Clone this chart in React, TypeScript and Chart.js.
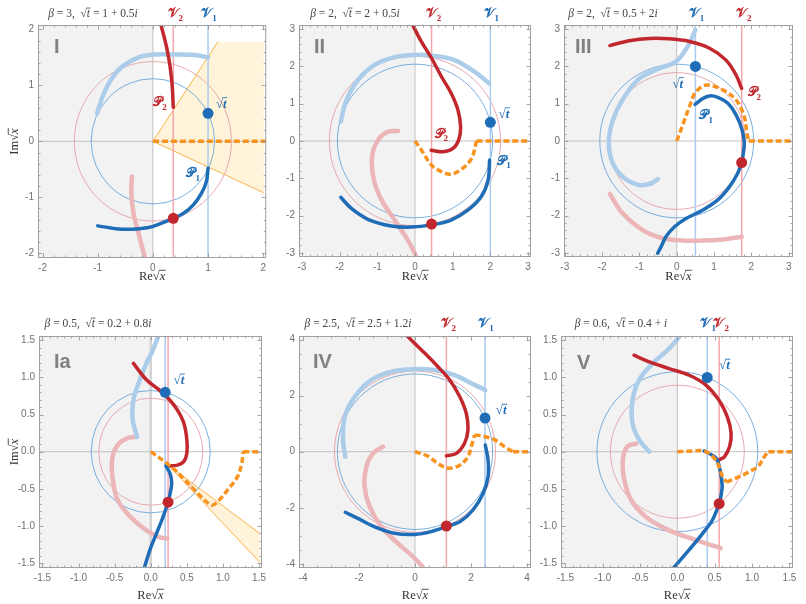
import React, { useEffect, useRef } from 'react';
import { Chart, registerables } from 'chart.js';
Chart.register(...registerables);

type Pt = [number, number];

// ---------------- Panel I ----------------
const I_sqrtT: Pt = [1, 0.5];
const I_saddle: Pt = [0.37, -1.375];
const I_P1: Pt[] = [[1.0, -0.48], [0.97, -0.72], [0.88, -0.93], [0.73, -1.14], [0.55, -1.29], [0.37, -1.375], [0.16, -1.46], [-0.08, -1.54], [-0.38, -1.57], [-0.67, -1.56], [-1.0, -1.51]];
const I_P2: Pt[] = [[0.14, 2.1], [0.2, 1.88], [0.26, 1.63], [0.31, 1.35], [0.35, 1.0], [0.37, 0.61]];
const I_fadedBlue: Pt[] = [[-1.01, 0.5], [-0.91, 0.8], [-0.76, 1.1], [-0.56, 1.33], [-0.26, 1.5], [0.04, 1.55], [0.4, 1.55], [0.76, 1.54], [1.0, 1.5]];
const I_fadedRed: Pt[] = [[-0.38, -0.63], [-0.39, -0.93], [-0.35, -1.29], [-0.26, -1.64], [-0.14, -2.1]];
const I_orange: Pt[] = [[0, 0], [2.2, 0]];
const I_wedge: Pt[] = [[0, 0], [1.18, 1.78], [2.01, 1.78], [2.01, -0.92]];

// ---------------- Panel II ----------------
const II_sqrtT: Pt = [2, 0.5];
const II_saddle: Pt = [0.44, -2.23];
const II_P1: Pt[] = [[1.98, -0.51], [1.94, -1.05], [1.76, -1.49], [1.41, -1.85], [0.96, -2.12], [0.44, -2.25], [-0.1, -2.31], [-0.63, -2.28], [-1.25, -2.1], [-1.69, -1.81], [-1.97, -1.51]];
const II_P2: Pt[] = [[-0.08, 3.15], [0.15, 2.7], [0.44, 2.22], [0.7, 1.73], [0.96, 1.28], [1.14, 0.83], [1.21, 0.38], [1.16, 0.03], [1.01, -0.2], [0.74, -0.29], [0.43, -0.25]];
const II_fadedBlue: Pt[] = [[-1.97, 0.52], [-1.82, 1.1], [-1.51, 1.64], [-1.07, 2.04], [-0.54, 2.25], [0, 2.31], [0.52, 2.28], [1.05, 2.17], [1.58, 1.86], [1.96, 1.55]];
const II_fadedRed: Pt[] = [[-0.45, 0.27], [-0.72, 0.25], [-0.98, 0.03], [-1.14, -0.42], [-1.09, -1.05], [-0.89, -1.58], [-0.54, -2.12], [-0.19, -2.66], [0.06, -3.15]];
const II_orangeCurve: Pt[] = [[0, 0], [0.17, -0.24], [0.43, -0.64], [0.7, -0.82], [0.96, -0.89], [1.27, -0.73], [1.5, -0.47], [1.6, -0.15], [1.63, 0]];
const II_orangeFlat: Pt[] = [[1.63, 0], [3.2, 0]];

// ---------------- Panel III ----------------
const III_sqrtT: Pt = [0.5, 2];
const III_saddle: Pt = [1.74, -0.58];
const III_P1: Pt[] = [[0.49, 0.98], [0.7, 1.14], [0.88, 1.21], [1.1, 1.17], [1.37, 1.01], [1.59, 0.7], [1.75, 0.3], [1.81, -0.06], [1.77, -0.42], [1.74, -0.58], [1.63, -0.87], [1.41, -1.23], [1.1, -1.58], [0.7, -1.85], [0.25, -2.08], [-0.06, -2.3], [-0.29, -2.57], [-0.42, -2.84], [-0.51, -3.01]];
const III_P2: Pt[] = [[-1.79, 2.56], [-1.27, 2.69], [-0.73, 2.75], [-0.2, 2.74], [0.34, 2.67], [0.88, 2.49], [1.32, 2.17], [1.59, 1.77], [1.74, 1.41]];
const III_fadedBlue: Pt[] = [[0.5, 2.98], [0.29, 2.53], [-0.02, 2.13], [-0.46, 1.95], [-1.0, 1.68], [-1.4, 1.19], [-1.71, 0.56], [-1.82, -0.06], [-1.71, -0.6], [-1.4, -1.0], [-1.0, -1.18], [-0.69, -1.14], [-0.51, -1.02]];
const III_fadedRed: Pt[] = [[-1.79, -1.42], [-1.45, -1.94], [-0.91, -2.39], [-0.375, -2.61], [0.16, -2.67], [0.7, -2.67], [1.23, -2.64], [1.74, -2.57]];
const III_orangeCurve: Pt[] = [[0, 0], [0.16, 0.43], [0.34, 0.92], [0.5, 1.3], [0.8, 1.5], [1.23, 1.37], [1.59, 1.1], [1.81, 0.65], [1.88, 0.21], [1.93, 0]];
const III_orangeFlat: Pt[] = [[1.93, 0], [3.2, 0]];

// ---------------- Panel Ia ----------------
const Ia_sqrtT: Pt = [0.2, 0.8];
const Ia_saddle: Pt = [0.24, -0.68];
const Ia_P1: Pt[] = [[0.21, -0.19], [0.27, -0.3], [0.29, -0.43], [0.26, -0.6], [0.24, -0.68], [0.17, -0.88], [0.08, -1.1], [-0.01, -1.32], [-0.1, -1.6]];
const Ia_P2: Pt[] = [[-0.24, 1.19], [-0.06, 0.97], [0.12, 0.83], [0.26, 0.7], [0.37, 0.56], [0.46, 0.38], [0.5, 0.16], [0.5, -0.02], [0.46, -0.13], [0.37, -0.18], [0.24, -0.19]];
const Ia_fadedBlue: Pt[] = [[-0.19, 0.2], [-0.25, 0.43], [-0.24, 0.7], [-0.17, 0.92], [-0.06, 1.19], [0.03, 1.37], [0.12, 1.6]];
const Ia_fadedRed: Pt[] = [[-0.19, 0.2], [-0.3, 0.19], [-0.44, 0.11], [-0.53, -0.07], [-0.53, -0.34], [-0.46, -0.65], [-0.28, -0.88], [-0.06, -1.06], [0.12, -1.15], [0.23, -1.17]];
const Ia_orangeCurve: Pt[] = [[0, 0], [0.255, -0.18], [0.435, -0.34], [0.61, -0.52], [0.84, -0.72], [0.93, -0.67], [1.06, -0.52], [1.2, -0.34], [1.26, -0.16], [1.28, 0]];
const Ia_orangeFlat: Pt[] = [[1.28, 0], [1.6, 0]];
const Ia_wedge: Pt[] = [[0.24, -0.18], [1.51, -1.1], [1.51, -1.49]];

// ---------------- Panel IV ----------------
const IV_sqrtT: Pt = [2.5, 1.2];
const IV_saddle: Pt = [1.12, -2.65];
const IV_P1: Pt[] = [[2.51, 0.24], [2.61, -0.3], [2.61, -0.89], [2.43, -1.49], [2.07, -2.08], [1.6, -2.5], [1.12, -2.67], [0.58, -2.85], [-0.01, -2.95], [-0.73, -2.91], [-1.44, -2.68], [-2.04, -2.38], [-2.49, -2.16]];
const IV_P2: Pt[] = [[-0.35, 4.2], [0.23, 3.63], [0.82, 3.03], [1.24, 2.56], [1.6, 1.96], [1.83, 1.37], [1.89, 0.77], [1.77, 0.3], [1.48, -0.06], [1.12, -0.15]];
const IV_fadedBlue: Pt[] = [[-2.49, -0.18], [-2.57, 0.42], [-2.51, 1.25], [-2.15, 1.96], [-1.56, 2.56], [-0.85, 2.85], [-0.01, 2.95], [0.7, 2.91], [1.42, 2.73], [2.01, 2.44], [2.51, 2.2]];
const IV_fadedRed: Pt[] = [[-1.14, 0.18], [-1.5, -0.06], [-1.74, -0.54], [-1.8, -1.25], [-1.62, -1.96], [-1.2, -2.68], [-0.61, -3.27], [-0.01, -3.8], [0.35, -4.2]];
const IV_orange1: Pt[] = [[0, 0], [0.46, -0.16], [0.82, -0.42], [1.18, -0.59], [1.6, -0.48], [1.89, -0.18], [2.01, 0.18], [2.13, 0.6]];
const IV_orange2: Pt[] = [[2.13, 0.6], [2.49, 0.54], [2.85, 0.42], [3.2, 0.18], [3.5, 0]];
const IV_orangeFlat: Pt[] = [[3.5, 0], [4.3, 0]];

// ---------------- Panel V ----------------
const V_sqrtT: Pt = [0.4, 1];
const V_saddle: Pt = [0.56, -0.7];
const V_P1: Pt[] = [[0.36, 0.01], [0.52, -0.09], [0.58, -0.29], [0.6, -0.47], [0.58, -0.62], [0.56, -0.7], [0.47, -0.92], [0.34, -1.1], [0.16, -1.32], [-0.08, -1.6]];
const V_P2: Pt[] = [[-0.58, 1.3], [-0.375, 1.21], [-0.11, 1.12], [0.16, 1.03], [0.38, 0.9], [0.56, 0.69], [0.67, 0.47], [0.72, 0.25], [0.7, 0.07], [0.63, -0.07], [0.56, -0.11]];
const V_fadedBlue: Pt[] = [[-0.375, 0], [-0.51, 0.16], [-0.6, 0.38], [-0.6, 0.7], [-0.51, 0.97], [-0.33, 1.19], [-0.11, 1.39], [0.07, 1.6]];
const V_fadedRed: Pt[] = [[-0.55, 0.11], [-0.67, 0.07], [-0.73, -0.11], [-0.71, -0.38], [-0.62, -0.65], [-0.42, -0.88], [-0.11, -1.06], [0.25, -1.19], [0.58, -1.3]];
const V_orange1: Pt[] = [[0, 0], [0.2, 0.01], [0.36, 0.01], [0.47, -0.06], [0.55, -0.18], [0.6, -0.32], [0.66, -0.41]];
const V_orange2: Pt[] = [[0.66, -0.41], [0.8, -0.35], [0.96, -0.27], [1.08, -0.2], [1.17, -0.06], [1.22, 0]];
const V_orangeFlat: Pt[] = [[1.22, 0], [1.6, 0]];

// ---------------- tick labels ----------------
const TICKS_2 = [-2, -1, 0, 1, 2];
const TICKS_3 = [-3, -2, -1, 0, 1, 2, 3];
const TICKS_15 = [-1.5, -1, -0.5, 0, 0.5, 1, 1.5];
const TICKS_4 = [-4, -2, 0, 2, 4];

// ---------------- styles ----------------
const SERIF = '"Liberation Serif", "DejaVu Serif", serif';
const SANS = '"Liberation Sans", "DejaVu Sans", sans-serif';
const DARK_BLUE = '#1f6db6';
const DARK_RED = '#c1272d';
const FADED_BLUE = '#abcdea';
const FADED_RED = '#ecb5b8';
const CIRCLE_BLUE = '#5a9ad4';
const CIRCLE_RED = '#e3a2a6';
const VLINE_BLUE = '#aacaf0';
const VLINE_RED = '#f4a6ac';
const ORANGE = '#f7931e';
const ORANGE_EDGE = '#f9b24a';
const WEDGE_FILL = '#fff4d9';
const GRAY = '#f2f2f2';

interface Seg { t: string; it?: boolean; ov?: boolean; sub?: boolean }
interface Label { kind: 'sqrt' | 'P1' | 'P2'; at: Pt }
interface Panel {
  name: string;
  cell: [number, number, number, number];
  yAxisW: number; padRight: number; padTop: number; xAxisH: number;
  xr: [number, number]; yr: [number, number];
  xt: number[]; yt: number[]; xMinor: number; yMinor: number; dec: number;
  sqrtT: Pt; saddle: Pt;
  P1: Pt[]; P2: Pt[]; fadedBlue: Pt[]; fadedRed: Pt[]; orange: Pt[][];
  wedge?: Pt[];
  beta: string; tval: string;
  titleX: number; titleY: number;
  vLabels: boolean;
  labels: Label[];
  roman: [number, number];
  showIm: boolean;
  reY: number;
  zeroW: number;
}

const PANELS: Panel[] = [
  {
    name: 'I', cell: [0, 0, 270, 300], yAxisW: 38, padRight: 1, padTop: 25, xAxisH: 42,
    xr: [-2.082, 2.054], yr: [-2.084, 2.077], xt: TICKS_2, yt: TICKS_2, xMinor: 0.2, yMinor: 0.2, dec: 0,
    sqrtT: I_sqrtT, saddle: I_saddle, P1: I_P1, P2: I_P2, fadedBlue: I_fadedBlue, fadedRed: I_fadedRed,
    orange: [I_orange], wedge: I_wedge, beta: '3', tval: '1 + 0.5', titleX: 93, titleY: 17,
    vLabels: true, labels: [{ kind: 'sqrt', at: [1.24, 0.68] }, { kind: 'P2', at: [0.13, 0.71] }, { kind: 'P1', at: [0.73, -0.56] }],
    roman: [54, 47], showIm: true, reY: 280, zeroW: 0.8,
  },
  {
    name: 'II', cell: [270, 0, 266, 300], yAxisW: 29, padRight: 5, padTop: 25, xAxisH: 43,
    xr: [-3.079, 3.079], yr: [-3.112, 3.112], xt: TICKS_3, yt: TICKS_3, xMinor: 0.2, yMinor: 0.2, dec: 0,
    sqrtT: II_sqrtT, saddle: II_saddle, P1: II_P1, P2: II_P2, fadedBlue: II_fadedBlue, fadedRed: II_fadedRed,
    orange: [II_orangeCurve, II_orangeFlat], beta: '2', tval: '2 + 0.5', titleX: 85, titleY: 17,
    vLabels: true, labels: [{ kind: 'sqrt', at: [2.36, 0.74] }, { kind: 'P2', at: [0.7, 0.21] }, { kind: 'P1', at: [2.36, -0.51] }],
    roman: [44, 47], showIm: false, reY: 280, zeroW: 0.8,
  },
  {
    name: 'III', cell: [536, 0, 270, 300], yAxisW: 28, padRight: 13, padTop: 25, xAxisH: 43,
    xr: [-3.02, 3.115], yr: [-3.112, 3.112], xt: TICKS_3, yt: TICKS_3, xMinor: 0.2, yMinor: 0.2, dec: 0,
    sqrtT: III_sqrtT, saddle: III_saddle, P1: III_P1, P2: III_P2, fadedBlue: III_fadedBlue, fadedRed: III_fadedRed,
    orange: [III_orangeCurve, III_orangeFlat], beta: '2', tval: '0.5 + 2', titleX: 77, titleY: 17,
    vLabels: true, labels: [{ kind: 'sqrt', at: [0.03, 1.55] }, { kind: 'P1', at: [0.79, 0.7] }, { kind: 'P2', at: [2.08, 1.32] }],
    roman: [39, 47], showIm: false, reY: 280, zeroW: 0.8,
  },
  {
    name: 'Ia', cell: [0, 300, 270, 304], yAxisW: 39, padRight: 1, padTop: 36, xAxisH: 36,
    xr: [-1.548, 1.541], yr: [-1.567, 1.559], xt: TICKS_15, yt: TICKS_15, xMinor: 0.1, yMinor: 0.1, dec: 1,
    sqrtT: Ia_sqrtT, saddle: Ia_saddle, P1: Ia_P1, P2: Ia_P2, fadedBlue: Ia_fadedBlue, fadedRed: Ia_fadedRed,
    orange: [Ia_orangeCurve, Ia_orangeFlat], wedge: Ia_wedge, beta: '0.5', tval: '0.2 + 0.8', titleX: 98, titleY: 27,
    vLabels: false, labels: [{ kind: 'sqrt', at: [0.39, 0.97] }],
    roman: [54, 62], showIm: true, reY: 299, zeroW: 2.5,
  },
  {
    name: 'IV', cell: [270, 300, 266, 304], yAxisW: 29, padRight: 5, padTop: 36, xAxisH: 36,
    xr: [-4.143, 4.143], yr: [-4.148, 4.126], xt: TICKS_4, yt: TICKS_4, xMinor: 0.5, yMinor: 0.5, dec: 0,
    sqrtT: IV_sqrtT, saddle: IV_saddle, P1: IV_P1, P2: IV_P2, fadedBlue: IV_fadedBlue, fadedRed: IV_fadedRed,
    orange: [IV_orange1, IV_orange2, IV_orangeFlat], beta: '2.5', tval: '2.5 + 1.2', titleX: 88, titleY: 27,
    vLabels: true, labels: [{ kind: 'sqrt', at: [3.08, 1.49] }],
    roman: [43, 62], showIm: false, reY: 299, zeroW: 0.8,
  },
  {
    name: 'V', cell: [536, 300, 270, 304], yAxisW: 25, padRight: 13, padTop: 36, xAxisH: 36,
    xr: [-1.558, 1.549], yr: [-1.567, 1.559], xt: TICKS_15, yt: TICKS_15, xMinor: 0.1, yMinor: 0.1, dec: 1,
    sqrtT: V_sqrtT, saddle: V_saddle, P1: V_P1, P2: V_P2, fadedBlue: V_fadedBlue, fadedRed: V_fadedRed,
    orange: [V_orange1, V_orange2, V_orangeFlat], beta: '0.6', tval: '0.4 + ', titleX: 85, titleY: 27,
    vLabels: true, labels: [{ kind: 'sqrt', at: [0.63, 1.17] }],
    roman: [41, 63], showIm: false, reY: 299, zeroW: 0.8,
  },
];

function drawRich(ctx: CanvasRenderingContext2D, segs: Seg[], x: number, y: number, size: number, fam: string,
  color: string, align: 'center' | 'left' = 'center', weight = '') {
  const f = (s: Seg) => `${s.it ? 'italic ' : ''}${weight ? weight + ' ' : ''}${s.sub ? Math.round(size * 0.7) : size}px ${fam}`;
  let w = 0;
  const ws = segs.map((s) => { ctx.font = f(s); const m = ctx.measureText(s.t).width; w += m; return m; });
  let cx = align === 'center' ? x - w / 2 : x;
  ctx.fillStyle = color; ctx.strokeStyle = color;
  ctx.textAlign = 'left'; ctx.textBaseline = 'alphabetic';
  segs.forEach((s, i) => {
    ctx.font = f(s);
    ctx.fillText(s.t, cx, y + (s.sub ? size * 0.28 : 0));
    if (s.ov) {
      ctx.lineWidth = Math.max(0.7, size / 15);
      ctx.beginPath();
      ctx.moveTo(cx - 0.5, y - size * 0.78);
      ctx.lineTo(cx + ws[i] + 0.5, y - size * 0.78);
      ctx.stroke();
    }
    cx += ws[i];
  });
}

const SQRT_SEGS = (v: string): Seg[] => [{ t: '√' }, { t: v, it: true, ov: true }];

function makePlugin(p: Panel) {
  return {
    id: 'panel' + p.name,
    beforeDatasetsDraw(chart: any) {
      const { ctx, chartArea: a } = chart;
      const xs = chart.scales.x, ys = chart.scales.y;
      const X = (v: number) => xs.getPixelForValue(v);
      const Y = (v: number) => ys.getPixelForValue(v);
      ctx.save();
      ctx.beginPath(); ctx.rect(a.left, a.top, a.right - a.left, a.bottom - a.top); ctx.clip();
      ctx.fillStyle = GRAY;
      ctx.fillRect(a.left, a.top, X(0) - a.left, a.bottom - a.top);
      if (p.wedge) {
        const w = p.wedge;
        ctx.beginPath();
        w.forEach(([x, y], i) => (i ? ctx.lineTo(X(x), Y(y)) : ctx.moveTo(X(x), Y(y))));
        ctx.closePath(); ctx.fillStyle = WEDGE_FILL; ctx.fill();
        ctx.strokeStyle = ORANGE_EDGE; ctx.lineWidth = 1;
        ctx.beginPath();
        ctx.moveTo(X(w[1][0]), Y(w[1][1])); ctx.lineTo(X(w[0][0]), Y(w[0][1])); ctx.lineTo(X(w[w.length - 1][0]), Y(w[w.length - 1][1]));
        ctx.stroke();
      }
      ctx.strokeStyle = p.zeroW > 1 ? '#d4d4d4' : '#b4b4b4'; ctx.lineWidth = p.zeroW;
      ctx.beginPath(); ctx.moveTo(X(0), a.top); ctx.lineTo(X(0), a.bottom); ctx.stroke();
      ctx.strokeStyle = '#b4b4b4'; ctx.lineWidth = 0.8;
      ctx.beginPath(); ctx.moveTo(a.left, Y(0)); ctx.lineTo(a.right, Y(0)); ctx.stroke();
      const circ = (pt: Pt, color: string, lw: number) => {
        const r = Math.hypot(pt[0], pt[1]);
        ctx.strokeStyle = color; ctx.lineWidth = lw;
        ctx.beginPath();
        ctx.ellipse(X(0), Y(0), Math.abs(X(r) - X(0)), Math.abs(Y(r) - Y(0)), 0, 0, Math.PI * 2);
        ctx.stroke();
      };
      circ(p.saddle, CIRCLE_RED, 0.9);
      circ(p.sqrtT, CIRCLE_BLUE, 0.8);
      const vline = (xv: number, color: string) => {
        ctx.strokeStyle = color; ctx.lineWidth = 1.5;
        ctx.beginPath(); ctx.moveTo(X(xv), a.top); ctx.lineTo(X(xv), a.bottom); ctx.stroke();
      };
      vline(p.sqrtT[0], VLINE_BLUE);
      vline(p.saddle[0], VLINE_RED);
      ctx.restore();
    },
    afterDatasetsDraw(chart: any) {
      const { ctx } = chart;
      const xs = chart.scales.x, ys = chart.scales.y;
      ctx.save();
      p.labels.forEach((l) => {
        const px = xs.getPixelForValue(l.at[0]);
        const py = ys.getPixelForValue(l.at[1]);
        if (l.kind === 'sqrt') drawRich(ctx, SQRT_SEGS('t'), px, py + 4.5, 13, SERIF, DARK_BLUE, 'center', 'bold');
        else drawRich(ctx, [{ t: '𝒫' }, { t: l.kind === 'P1' ? '1' : '2', sub: true }], px, py + 4.5, 13, SERIF,
          l.kind === 'P1' ? DARK_BLUE : DARK_RED, 'center', 'bold');
      });
      ctx.fillStyle = '#808080';
      ctx.font = `bold 20px ${SANS}`;
      ctx.textAlign = 'left'; ctx.textBaseline = 'middle';
      ctx.fillText(p.name, p.roman[0], p.roman[1]);
      ctx.restore();
    },
    afterDraw(chart: any) {
      const { ctx, chartArea: a } = chart;
      const xs = chart.scales.x, ys = chart.scales.y;
      const X = (v: number) => xs.getPixelForValue(v);
      const Y = (v: number) => ys.getPixelForValue(v);
      ctx.save();
      ctx.strokeStyle = '#8f8f8f'; ctx.lineWidth = 0.8;
      ctx.beginPath();
      const tickSet = (major: number[], step: number, min: number, max: number) => {
        const out: { v: number; len: number }[] = [];
        for (let k = Math.ceil(min / step - 1e-6); k * step <= max + 1e-6; k++) {
          const v = k * step;
          const isMajor = major.some((m) => Math.abs(m - v) < 1e-6);
          out.push({ v, len: isMajor ? 4.5 : 2.5 });
        }
        return out;
      };
      tickSet(p.xt, p.xMinor, p.xr[0], p.xr[1]).forEach(({ v, len }) => {
        const px = Math.round(X(v)) + 0.5;
        ctx.moveTo(px, a.bottom); ctx.lineTo(px, a.bottom - len);
        ctx.moveTo(px, a.top); ctx.lineTo(px, a.top + len);
      });
      tickSet(p.yt, p.yMinor, p.yr[0], p.yr[1]).forEach(({ v, len }) => {
        const py = Math.round(Y(v)) + 0.5;
        ctx.moveTo(a.left, py); ctx.lineTo(a.left + len, py);
        ctx.moveTo(a.right, py); ctx.lineTo(a.right - len, py);
      });
      ctx.stroke();
      ctx.strokeStyle = '#a0a0a0'; ctx.lineWidth = 1;
      ctx.strokeRect(a.left + 0.5, a.top + 0.5, a.right - a.left - 1, a.bottom - a.top - 1);
      const segs: Seg[] = [{ t: 'β', it: true }, { t: ` = ${p.beta},  ` }, { t: '√' }, { t: 't', it: true, ov: true },
        { t: ` = ${p.tval}` }, { t: 'i', it: true }];
      drawRich(ctx, segs, p.titleX, p.titleY, 11.5, SERIF, '#444');
      if (p.vLabels) {
        drawRich(ctx, [{ t: '𝒱' }, { t: '1', sub: true }], X(p.sqrtT[0]) + 1, p.titleY, 12.5, SERIF, DARK_BLUE, 'center', 'bold');
        drawRich(ctx, [{ t: '𝒱' }, { t: '2', sub: true }], X(p.saddle[0]) + 2, p.titleY, 12.5, SERIF, DARK_RED, 'center', 'bold');
      }
      const cxp = (a.left + a.right) / 2;
      drawRich(ctx, [{ t: 'Re' }, ...SQRT_SEGS('x')], cxp, p.reY, 12.5, SERIF, '#333');
      if (p.showIm) {
        ctx.save();
        ctx.translate(18, (a.top + a.bottom) / 2);
        ctx.rotate(-Math.PI / 2);
        drawRich(ctx, [{ t: 'Im' }, ...SQRT_SEGS('x')], 0, 0, 12.5, SERIF, '#333');
        ctx.restore();
      }
      ctx.restore();
    },
  };
}

function lineDS(pts: Pt[], color: string, width: number, dash?: number[]) {
  return {
    data: pts.map(([x, y]) => ({ x, y })),
    showLine: true, pointRadius: 0, pointHoverRadius: 0,
    borderColor: color, borderWidth: width, borderDash: dash || [],
    borderCapStyle: dash ? 'butt' : 'round', borderJoinStyle: 'round',
    tension: 0.35, fill: false, clip: 0,
  };
}
function dotDS(pt: Pt, color: string) {
  return {
    data: [{ x: pt[0], y: pt[1] }], showLine: false, pointRadius: 5.5, pointHoverRadius: 5.5,
    pointBackgroundColor: color, pointBorderWidth: 0, borderColor: color, clip: false,
  };
}

function buildConfig(p: Panel): any {
  const list: any[] = [
    lineDS(p.fadedRed, FADED_RED, 4.5),
    lineDS(p.fadedBlue, FADED_BLUE, 4.5),
    lineDS(p.P2, DARK_RED, 3.5),
    lineDS(p.P1, DARK_BLUE, 3.5),
    ...p.orange.map((seg) => lineDS(seg, ORANGE, 3.5, [6, 3])),
    dotDS(p.sqrtT, DARK_BLUE),
    dotDS(p.saddle, DARK_RED),
  ];
  const n = list.length;
  list.forEach((d, i) => { d.order = n - i; });
  const fmt = (v: number) => (p.dec ? v.toFixed(p.dec) : String(Math.round(v)));
  const tickFont = { family: SANS, size: 10 };
  return {
    type: 'scatter',
    data: { datasets: list },
    options: {
      animation: false, responsive: false, events: [],
      layout: { autoPadding: false, padding: { top: p.padTop, right: p.padRight, left: 0, bottom: 0 } },
      plugins: { legend: { display: false }, tooltip: { enabled: false }, title: { display: false } },
      scales: {
        x: {
          type: 'linear', min: p.xr[0], max: p.xr[1],
          grid: { display: false, drawTicks: false }, border: { display: false },
          afterBuildTicks: (s: any) => { s.ticks = p.xt.map((v) => ({ value: v })); },
          afterFit: (s: any) => { s.height = p.xAxisH; },
          ticks: { callback: (v: any) => fmt(Number(v)), color: '#707070', font: tickFont, padding: 4, maxRotation: 0, autoSkip: false },
        },
        y: {
          type: 'linear', min: p.yr[0], max: p.yr[1],
          grid: { display: false, drawTicks: false }, border: { display: false },
          afterBuildTicks: (s: any) => { s.ticks = p.yt.map((v) => ({ value: v })); },
          afterFit: (s: any) => { s.width = p.yAxisW; },
          ticks: { callback: (v: any) => fmt(Number(v)), color: '#707070', font: tickFont, padding: 4, autoSkip: false },
        },
      },
    },
    plugins: [makePlugin(p)],
  };
}

function PanelChart({ p }: { p: Panel }) {
  const ref = useRef<HTMLCanvasElement>(null);
  useEffect(() => {
    const chart = new Chart(ref.current as HTMLCanvasElement, buildConfig(p));
    return () => chart.destroy();
  }, [p]);
  return (
    <canvas ref={ref} width={p.cell[2]} height={p.cell[3]}
      style={{ position: 'absolute', left: p.cell[0], top: p.cell[1], width: p.cell[2], height: p.cell[3] }} />
  );
}

export default function App() {
  return (
    <div style={{ position: 'absolute', left: 0, top: 0, width: 806, height: 604, background: '#ffffff', overflow: 'hidden' }}>
      {PANELS.map((p) => <PanelChart key={p.name} p={p} />)}
    </div>
  );
}
